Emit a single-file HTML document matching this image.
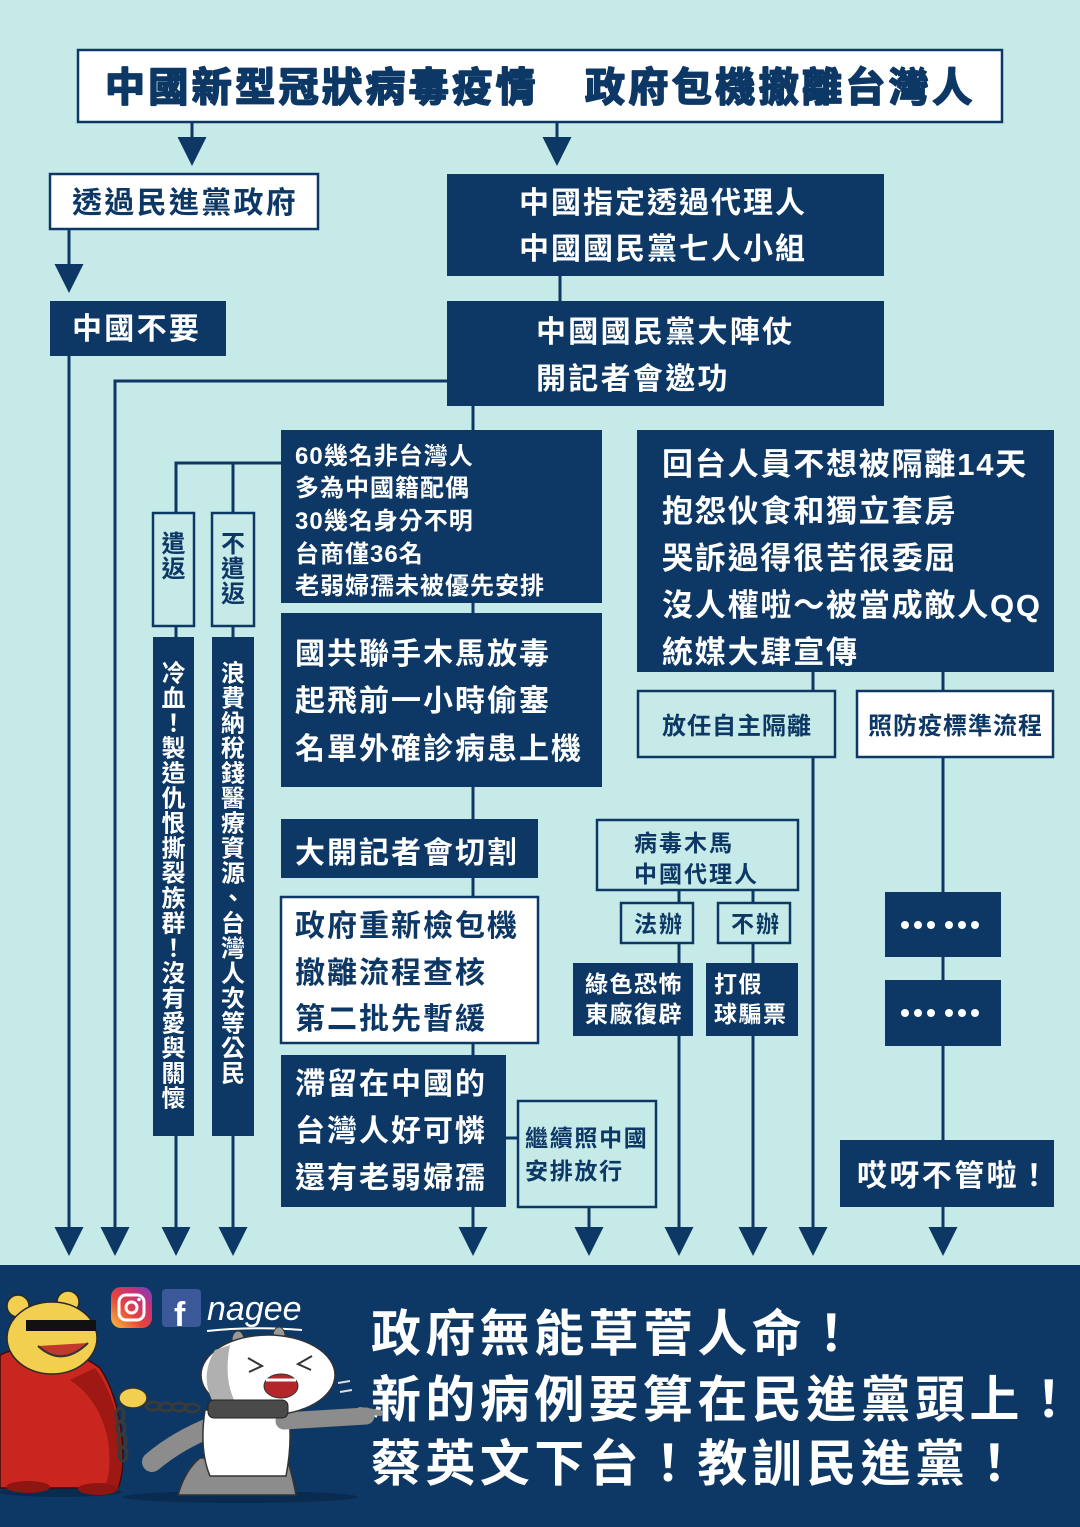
<!DOCTYPE html>
<html><head><meta charset="utf-8"><style>
html,body{margin:0;padding:0;background:#c6eae7;}
svg{display:block}
text{font-family:"Liberation Sans","Noto Sans CJK TC","Noto Sans CJK SC",sans-serif;font-weight:700;}
.n{fill:#0d3866}
.w{fill:#ffffff}
</style></head><body>
<svg width="1080" height="1527" viewBox="0 0 1080 1527" xmlns="http://www.w3.org/2000/svg">
<defs>
<linearGradient id="ig" x1="0" y1="1" x2="1" y2="0">
<stop offset="0" stop-color="#f9c43d"/><stop offset="0.4" stop-color="#e8463a"/><stop offset="0.75" stop-color="#c2307f"/><stop offset="1" stop-color="#6a47c7"/>
</linearGradient>
</defs>
<rect width="1080" height="1527" fill="#c6eae7"/>

<!-- connector lines -->
<g stroke="#0d3866" stroke-width="3" fill="none">
<line x1="192" y1="122" x2="192" y2="140"/>
<line x1="557" y1="122" x2="557" y2="140"/>
<line x1="69" y1="229" x2="69" y2="266"/>
<line x1="69" y1="356" x2="69" y2="1230"/>
<line x1="560" y1="276" x2="560" y2="301"/>
<polyline points="447,381 115,381 115,1230"/>
<line x1="473" y1="406" x2="473" y2="430"/>
<polyline points="281,463 176,463 176,513"/>
<line x1="233" y1="463" x2="233" y2="513"/>
<line x1="176" y1="626" x2="176" y2="637"/>
<line x1="233" y1="626" x2="233" y2="637"/>
<line x1="176" y1="1136" x2="176" y2="1230"/>
<line x1="233" y1="1136" x2="233" y2="1230"/>
<line x1="473" y1="603" x2="473" y2="613"/>
<line x1="473" y1="787" x2="473" y2="819"/>
<line x1="473" y1="878" x2="473" y2="897"/>
<line x1="473" y1="1043" x2="473" y2="1055"/>
<line x1="473" y1="1207" x2="473" y2="1230"/>
<line x1="506" y1="1138" x2="518" y2="1138"/>
<line x1="589" y1="1207" x2="589" y2="1230"/>
<line x1="679" y1="890" x2="679" y2="903"/>
<line x1="753" y1="890" x2="753" y2="903"/>
<line x1="679" y1="943" x2="679" y2="963"/>
<line x1="753" y1="943" x2="753" y2="963"/>
<line x1="679" y1="1036" x2="679" y2="1230"/>
<line x1="753" y1="1036" x2="753" y2="1230"/>
<line x1="813" y1="672" x2="813" y2="691"/>
<line x1="943" y1="672" x2="943" y2="691"/>
<line x1="813" y1="757" x2="813" y2="1230"/>
<line x1="943" y1="757" x2="943" y2="892"/>
<line x1="943" y1="957" x2="943" y2="980"/>
<line x1="943" y1="1046" x2="943" y2="1140"/>
<line x1="943" y1="1207" x2="943" y2="1230"/>
</g>

<!-- arrowheads -->
<g fill="#0d3866">
<polygon points="177.5,137 206.5,137 192,166"/>
<polygon points="542.5,137 571.5,137 557,166"/>
<polygon points="54.5,264 83.5,264 69,293"/>
<polygon points="54.5,1227 83.5,1227 69,1256"/>
<polygon points="100.5,1227 129.5,1227 115,1256"/>
<polygon points="161.5,1227 190.5,1227 176,1256"/>
<polygon points="218.5,1227 247.5,1227 233,1256"/>
<polygon points="458.5,1227 487.5,1227 473,1256"/>
<polygon points="574.5,1227 603.5,1227 589,1256"/>
<polygon points="664.5,1227 693.5,1227 679,1256"/>
<polygon points="738.5,1227 767.5,1227 753,1256"/>
<polygon points="798.5,1227 827.5,1227 813,1256"/>
<polygon points="928.5,1227 957.5,1227 943,1256"/>
</g>

<!-- boxes -->
<g stroke="#0d3866" stroke-width="2.5">
<rect x="78" y="50" width="924" height="72" fill="#ffffff"/>
<rect x="50" y="174" width="268" height="55" fill="#ffffff"/>
<rect x="153" y="513" width="41" height="113" fill="#c6eae7"/>
<rect x="212" y="513" width="42" height="113" fill="#c6eae7"/>
<rect x="281" y="897" width="257" height="146" fill="#ffffff"/>
<rect x="518" y="1101" width="138" height="106" fill="#c6eae7"/>
<rect x="597" y="820" width="201" height="70" fill="#c6eae7"/>
<rect x="621" y="903" width="72" height="40" fill="#c6eae7"/>
<rect x="718" y="903" width="72" height="40" fill="#c6eae7"/>
<rect x="638" y="691" width="197" height="66" fill="#c6eae7"/>
<rect x="857" y="691" width="196" height="66" fill="#ffffff"/>
</g>
<g fill="#0d3866">
<rect x="50" y="301" width="176" height="55"/>
<rect x="447" y="174" width="437" height="102"/>
<rect x="447" y="301" width="437" height="105"/>
<rect x="281" y="430" width="321" height="173"/>
<rect x="281" y="613" width="321" height="174"/>
<rect x="153" y="637" width="41" height="499"/>
<rect x="212" y="637" width="42" height="499"/>
<rect x="281" y="819" width="257" height="59"/>
<rect x="281" y="1055" width="225" height="152"/>
<rect x="573" y="963" width="120" height="73"/>
<rect x="706" y="963" width="92" height="73"/>
<rect x="637" y="430" width="417" height="242"/>
<rect x="885" y="892" width="116" height="65"/>
<rect x="885" y="980" width="116" height="66"/>
<rect x="840" y="1140" width="214" height="67"/>
<rect x="0" y="1265" width="1080" height="262"/>
</g>

<!-- dots -->
<g fill="#ffffff">
<circle cx="905" cy="925" r="4"/><circle cx="918" cy="925" r="4"/><circle cx="931" cy="925" r="4"/>
<circle cx="949" cy="925" r="4"/><circle cx="962" cy="925" r="4"/><circle cx="975" cy="925" r="4"/>
<circle cx="905" cy="1013" r="4"/><circle cx="918" cy="1013" r="4"/><circle cx="931" cy="1013" r="4"/>
<circle cx="949" cy="1013" r="4"/><circle cx="962" cy="1013" r="4"/><circle cx="975" cy="1013" r="4"/>
</g>

<!-- title -->
<g class="n" font-size="40" letter-spacing="3.4" stroke="#0d3866" stroke-width="1.8" stroke-linejoin="round" style="font-weight:900">
<text x="105" y="101">中國新型冠狀病毒疫情</text>
<text x="585" y="101">政府包機撤離台灣人</text>
</g>

<!-- left column -->
<text class="n" x="72" y="213" font-size="30" letter-spacing="2.3">透過民進黨政府</text>
<text class="w" x="72" y="339" font-size="30" letter-spacing="2.3">中國不要</text>

<!-- center top -->
<text class="w" x="519" y="213" font-size="30" letter-spacing="2">中國指定透過代理人</text>
<text class="w" x="519" y="259" font-size="30" letter-spacing="2">中國國民黨七人小組</text>
<text class="w" x="536" y="342" font-size="30" letter-spacing="2.3">中國國民黨大陣仗</text>
<text class="w" x="536" y="389" font-size="30" letter-spacing="2.3">開記者會邀功</text>

<!-- 60 box -->
<g class="w" font-size="24" letter-spacing="1">
<text x="295" y="464">60幾名非台灣人</text>
<text x="295" y="496">多為中國籍配偶</text>
<text x="295" y="529">30幾名身分不明</text>
<text x="295" y="562">台商僅36名</text>
<text x="295" y="594">老弱婦孺未被優先安排</text>
</g>

<g class="w" font-size="30" letter-spacing="2">
<text x="295" y="664">國共聯手木馬放毒</text>
<text x="295" y="711">起飛前一小時偷塞</text>
<text x="295" y="759">名單外確診病患上機</text>
<text x="295" y="863">大開記者會切割</text>
</g>
<g class="n" font-size="30" letter-spacing="2">
<text x="295" y="936">政府重新檢包機</text>
<text x="295" y="983">撤離流程查核</text>
<text x="295" y="1029">第二批先暫緩</text>
</g>
<g class="w" font-size="30" letter-spacing="2">
<text x="295" y="1094">滯留在中國的</text>
<text x="295" y="1141">台灣人好可憐</text>
<text x="295" y="1188">還有老弱婦孺</text>
</g>
<g class="n" font-size="23" letter-spacing="1.7">
<text x="525" y="1146">繼續照中國</text>
<text x="525" y="1179">安排放行</text>
</g>

<!-- virus trojan -->
<g class="n" font-size="23" letter-spacing="2">
<text x="634" y="851">病毒木馬</text>
<text x="634" y="882">中國代理人</text>
<text x="634" y="932">法辦</text>
<text x="731" y="932">不辦</text>
</g>
<g class="w" font-size="23" letter-spacing="1.5">
<text x="585" y="992">綠色恐怖</text>
<text x="585" y="1022">東廠復辟</text>
<text x="714" y="992">打假</text>
<text x="714" y="1022">球騙票</text>
</g>

<!-- right box -->
<g class="w" font-size="31" letter-spacing="1.8">
<text x="662" y="475">回台人員不想被隔離14天</text>
<text x="662" y="522">抱怨伙食和獨立套房</text>
<text x="662" y="569">哭訴過得很苦很委屈</text>
<text x="662" y="616">沒人權啦～被當成敵人QQ</text>
<text x="662" y="663">統媒大肆宣傳</text>
</g>
<g class="n" font-size="24" letter-spacing="1">
<text x="662" y="734">放任自主隔離</text>
<text x="868" y="734">照防疫標準流程</text>
</g>
<text class="w" x="857" y="1186" font-size="30" letter-spacing="2.4">哎呀不管啦！</text>

<!-- vertical texts -->
<g class="n" font-size="24" text-anchor="middle">
<text x="173.5" y="552">遣</text><text x="173.5" y="577">返</text>
<text x="233" y="552">不</text><text x="233" y="577">遣</text><text x="233" y="602">返</text>
</g>
<g class="w" font-size="24" text-anchor="middle">
<text x="173.5" y="681.6">冷</text><text x="173.5" y="706.6">血</text><text x="173.5" y="731.6">！</text><text x="173.5" y="756.6">製</text><text x="173.5" y="781.6">造</text><text x="173.5" y="806.6">仇</text><text x="173.5" y="831.6">恨</text><text x="173.5" y="856.6">撕</text><text x="173.5" y="881.6">裂</text><text x="173.5" y="906.6">族</text><text x="173.5" y="931.6">群</text><text x="173.5" y="956.6">！</text><text x="173.5" y="981.6">沒</text><text x="173.5" y="1006.6">有</text><text x="173.5" y="1031.6">愛</text><text x="173.5" y="1056.6">與</text><text x="173.5" y="1081.6">關</text><text x="173.5" y="1106.6">懷</text>
<text x="233" y="681.6">浪</text><text x="233" y="706.6">費</text><text x="233" y="731.6">納</text><text x="233" y="756.6">稅</text><text x="233" y="781.6">錢</text><text x="233" y="806.6">醫</text><text x="233" y="831.6">療</text><text x="233" y="856.6">資</text><text x="233" y="881.6">源</text><text x="233" y="906.6">、</text><text x="233" y="931.6">台</text><text x="233" y="956.6">灣</text><text x="233" y="981.6">人</text><text x="233" y="1006.6">次</text><text x="233" y="1031.6">等</text><text x="233" y="1056.6">公</text><text x="233" y="1081.6">民</text>
</g>

<!-- bottom slogans -->
<g class="w" font-size="50" letter-spacing="4.4">
<text x="371" y="1351">政府無能草菅人命！</text>
<text x="371" y="1417">新的病例要算在民進黨頭上！</text>
<text x="371" y="1481">蔡英文下台！教訓民進黨！</text>
</g>

<!-- social icons -->
<rect x="111" y="1287" width="41" height="41" rx="10" fill="url(#ig)"/>
<rect x="119" y="1295" width="25" height="25" rx="7" fill="none" stroke="#fff" stroke-width="3"/>
<circle cx="131.5" cy="1307.5" r="5.5" fill="none" stroke="#fff" stroke-width="3"/>
<circle cx="139" cy="1299.5" r="1.8" fill="#fff"/>
<rect x="162" y="1289" width="39" height="38" rx="4" fill="#3b5998"/>
<text x="174" y="1326" font-size="34" fill="#fff" style="font-family:'Liberation Sans',sans-serif;font-weight:700">f</text>
<text x="207" y="1320" font-size="34" fill="#fff" style="font-family:'Liberation Sans',sans-serif;font-style:italic;font-weight:400">nagee</text>
<path d="M207,1331 Q255,1326 302,1330" stroke="#fff" stroke-width="2" fill="none"/>

<!-- illustration: bear in red robe -->
<ellipse cx="240" cy="1497" rx="118" ry="6" fill="#0a2b50"/>
<ellipse cx="60" cy="1492" rx="62" ry="5" fill="#0a2b50"/>
<path d="M0,1355 Q20,1345 45,1350 Q80,1352 100,1368 Q118,1395 122,1440 Q125,1470 118,1488 L0,1488 Z" fill="#c8261e" stroke="#3a0c0a" stroke-width="1.5"/>
<path d="M70,1380 Q100,1400 108,1440 Q112,1470 105,1486 L118,1488 Q125,1460 120,1430 Q112,1390 95,1368 Z" fill="#9e1913"/>
<ellipse cx="28" cy="1487" rx="22" ry="6" fill="#8e1510"/>
<ellipse cx="98" cy="1489" rx="20" ry="6" fill="#8e1510"/>
<circle cx="18" cy="1306" r="11" fill="#f3cf4f" stroke="#2a2a2a" stroke-width="1.5"/>
<circle cx="68" cy="1302" r="11" fill="#f3cf4f" stroke="#2a2a2a" stroke-width="1.5"/>
<ellipse cx="52" cy="1338" rx="45" ry="36" fill="#f3cf4f" stroke="#2a2a2a" stroke-width="1.5"/>
<rect x="26" y="1320" width="70" height="11" fill="#111"/>
<path d="M38,1346 Q62,1368 88,1343" stroke="#333" stroke-width="2" fill="#c0392b"/>
<ellipse cx="133" cy="1398" rx="14" ry="10" fill="#f3cf4f" stroke="#333" stroke-width="1.5"/>
<g fill="none" stroke="#3a3a3a" stroke-width="3">
<ellipse cx="120" cy="1415" rx="4" ry="7"/><ellipse cx="121" cy="1428" rx="4" ry="7"/><ellipse cx="122" cy="1441" rx="4" ry="7"/><ellipse cx="123" cy="1454" rx="4" ry="7"/>
<ellipse cx="153" cy="1406" rx="7" ry="4"/><ellipse cx="166" cy="1407" rx="7" ry="4"/><ellipse cx="179" cy="1407" rx="7" ry="4"/><ellipse cx="192" cy="1408" rx="7" ry="4"/>
</g>

<!-- illustration: white bunny -->
<path d="M178,1495 Q185,1470 200,1458 L287,1458 Q293,1478 296,1495 Z" fill="#8c8c8c" stroke="#333" stroke-width="1.5"/>
<path d="M214,1426 Q178,1440 152,1462" stroke="#8c8c8c" stroke-width="20" stroke-linecap="round" fill="none"/>
<path d="M205,1410 Q199,1450 210,1476 L286,1476 Q293,1440 288,1410 Z" fill="#ffffff" stroke="#333" stroke-width="1.5"/>
<path d="M284,1421 L366,1416" stroke="#8c8c8c" stroke-width="17" stroke-linecap="round" fill="none"/>
<path d="M360,1410 L380,1413" stroke="#8c8c8c" stroke-width="6" stroke-linecap="round"/>
<ellipse cx="238" cy="1340" rx="6" ry="9" fill="#999" stroke="#333"/>
<ellipse cx="279" cy="1336" rx="6" ry="9" fill="#999" stroke="#333"/>
<ellipse cx="268" cy="1375" rx="67" ry="40" fill="#ffffff" stroke="#333" stroke-width="1.5"/>
<path d="M215,1350 Q200,1375 212,1400 Q225,1412 240,1410 Q222,1385 230,1345 Z" fill="#b0b0b0"/>
<rect x="208" y="1400" width="80" height="18" rx="6" fill="#4a4a4a" stroke="#222"/>
<ellipse cx="281" cy="1386" rx="17" ry="12" fill="#b3262a" stroke="#333"/>
<path d="M266,1380 L296,1380" stroke="#fff" stroke-width="3"/>
<path d="M248,1358 L262,1366 L249,1372 M312,1356 L298,1364 L311,1370" stroke="#333" stroke-width="2" fill="none"/>
<path d="M338,1383 L350,1381 M340,1392 L352,1390" stroke="#ddd" stroke-width="2"/>
</svg>
</body></html>
